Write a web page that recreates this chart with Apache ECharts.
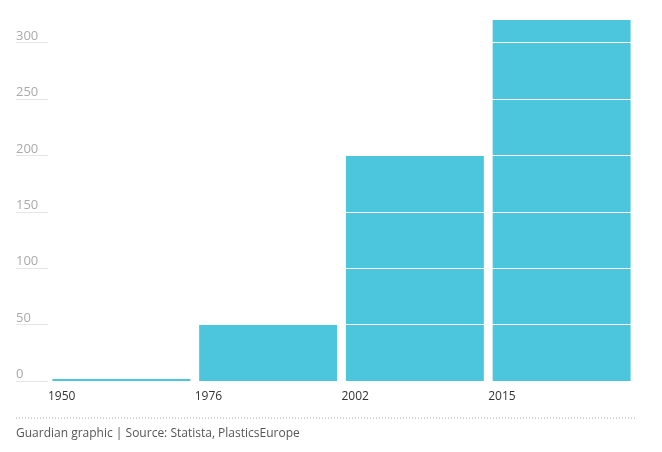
<!DOCTYPE html>
<html>
<head>
<meta charset="utf-8">
<script src="https://cdn.jsdelivr.net/npm/echarts@6/dist/echarts.min.js"></script>
</head>
<body style="margin:0">
<div id="chart" style="width:662px;height:452px"></div>
<script>
var years = ['1950', '1976', '2002', '2015'];
var production = [1.7, 50, 200, 322];
var gridValues = [50, 100, 150, 200, 250, 300];

var chart = echarts.init(document.getElementById('chart'));
chart.setOption({
    animation: false,
    textStyle: { fontFamily: 'Open Sans' },
    grid: { left: 48, right: 27, top: 20, bottom: 71 },
    xAxis: [
        { type: 'category', data: years, show: false },
        {
            type: 'value', min: 0, max: 4, interval: 1, position: 'bottom',
            axisLine: { show: false }, axisTick: { show: false }, splitLine: { show: false },
            axisLabel: {
                align: 'left', margin: 10, color: '#333', fontSize: 12,
                formatter: function (v) { return years[v] || ''; }
            }
        }
    ],
    yAxis: {
        type: 'value', min: 0, max: 320, interval: 50,
        axisLine: { show: false },
        axisTick: { show: true, length: 32, lineStyle: { color: '#e6e6e6' } },
        splitLine: { show: false },
        axisLabel: {
            align: 'left', margin: 32, verticalAlign: 'bottom', color: '#aaa', fontSize: 13,
            showMaxLabel: false
        }
    },
    series: [{
        type: 'bar',
        data: production,
        xAxisIndex: 0,
        barCategoryGap: '6%',
        itemStyle: { color: '#4bc6dc' },
        markLine: {
            silent: true, symbol: 'none', label: { show: false },
            lineStyle: { color: '#fff', width: 1, type: 'solid' },
            data: gridValues.map(function (v) { return { yAxis: v }; })
        }
    }],
    graphic: [
        { type: 'line', shape: { x1: 16, y1: 418, x2: 636, y2: 418 },
          style: { stroke: '#aaa', lineDash: [1, 2], lineWidth: 1 } },
        { type: 'text', left: 16, top: 428,
          style: { text: 'Guardian graphic | Source: Statista, PlasticsEurope', fill: '#555', font: '12px Open Sans' } }
    ]
});
</script>
</body>
</html>
